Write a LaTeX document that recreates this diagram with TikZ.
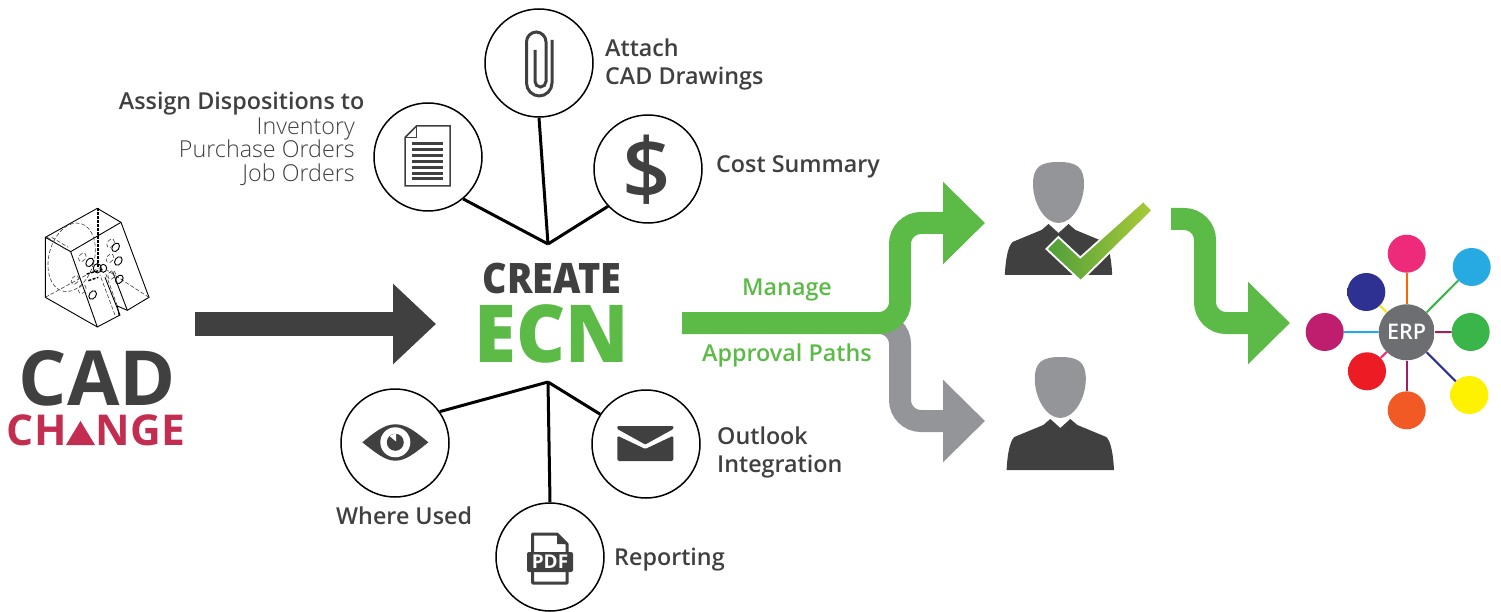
\documentclass[tikz,border=0pt]{standalone}
\usepackage{fontspec}
\setmainfont{Open Sans}
\newfontfamily\semifont{Open Sans Semibold}
\newfontfamily\lightfont{Open Sans Light}
\newfontfamily\heavyfont{Open Sans Extrabold}[FakeStretch=0.90]
\newfontfamily\ecnfont{Open Sans Extrabold}[FakeStretch=0.95]
\usetikzlibrary{arrows.meta}
\definecolor{ink}{HTML}{404040}
\definecolor{ecngreen}{HTML}{5CBB47}
\definecolor{pathgray}{HTML}{939598}
\definecolor{changered}{HTML}{C32E50}
\tikzstyle{iconnode} = [circle,
minimum size=108pt,
inner sep=0pt,
draw=black,
line width=1.5pt,
fill=white]
\tikzstyle{spoke} = [line width=3pt, black]
\tikzstyle{lbl} = [inner sep=0pt, anchor=base west, align=left, text=ink,
font=\fontsize{23.3}{28}\semifont]
\tikzstyle{sublbl} = [inner sep=0pt, anchor=base east, text=ink,
font=\fontsize{23.3}{24}\lightfont]
\tikzstyle{greenlbl} = [inner sep=0pt, anchor=base west, text=ecngreen,
font=\fontsize{23.3}{28}\semifont]
\tikzstyle{flow} = [line width=22pt, rounded corners=21pt,
-{Triangle[length=42pt,width=80pt]}]
\tikzstyle{erpline} = [line width=2pt]
\tikzstyle{cadline} = [line width=0.9pt, black]
\tikzstyle{caddash} = [line width=0.6pt, ink, dash pattern=on 4pt off 2pt]
\pgfdeclareradialshading[ballmain,ballrim]{ballshade}{\pgfpointorigin}{%
color(0bp)=(ballmain); color(30bp)=(ballmain); color(50bp)=(ballrim); color(100bp)=(ballrim)}
\tikzset{
  ball/.style 2 args={circle, minimum size=38pt, inner sep=0pt,
    /utils/exec={\definecolor{ballmain}{HTML}{#1}\definecolor{ballrim}{HTML}{#2}}, shading=ballshade},
  person/.pic={
    \fill [pathgray] (0,-113) .. controls (-18,-113) and (-25.5,-108) .. (-25.5,-91)
      .. controls (-25.5,-72) and (-14,-52) .. (0,-52)
      .. controls (14,-52) and (25.5,-72) .. (25.5,-91)
      .. controls (25.5,-108) and (18,-113) .. (0,-113) -- cycle;
    \fill [ink] (-53.7,0) .. controls (-53,-14) and (-51,-28) .. (-46,-33)
      -- (-17,-45) -- (-10,-51) -- (0,-42) -- (10,-51) -- (17,-45) -- (46,-33)
      .. controls (51,-28) and (53,-14) .. (53.7,0) -- cycle;
  }
}
\begin{document}
\begin{tikzpicture}[x=1pt, y=-1pt]
    \useasboundingbox (0,0) rectangle (1501,612);

    % CAD model
    \begin{scope}[shift={(40,200)}, x=0.3333pt, y=-0.3333pt]
      \draw [cadline] (16,112) -- (172,25) -- (243,67) -- (327,292) -- (262,331) -- (218,215);
      \draw [cadline] (16,112) -- (16,292) -- (172,381) -- (240,345) -- (195,232);
      \draw [cadline] (16,112) -- (92,155) -- (243,67);
      \draw [cadline] (92,155) -- (172,381);
      \draw [cadline] (237,345) -- (232,318) -- (262,331);
      \draw [caddash] (232,318) -- (195,215);
      \draw [caddash] (16,292) -- (175,205) (327,292) -- (200,210);
      \draw [caddash] (225,345) -- (180,225);
      \draw [caddash] (22,112) -- (80,150) (35,112) -- (85,142);
      \draw [caddash, rotate around={-15:(95,172)}] (95,172) ellipse [x radius=68, y radius=105];
      \foreach \cx/\cy in {212/130, 127/172, 210/175, 215/225, 105/240, 127/268}
        \draw [caddash, shift={(\cx,\cy)}, rotate=-35] (0,0) ellipse [x radius=10, y radius=14];
      \foreach \cx/\cy in {227/142, 149/187, 235/183, 238/238, 158/285}
        \draw [cadline, shift={(\cx,\cy)}, rotate=-35] (0,0) ellipse [x radius=10, y radius=14];
      \draw [black, line width=2pt, dash pattern=on 3pt off 1pt] (175,25) -- (175,205);
      \draw [black, line width=1.4pt, dash pattern=on 3pt off 1.5pt] (140,222) -- (190,208) (145,242) -- (175,232);
      \draw [cadline] (172,205) ellipse [x radius=12, y radius=14];
      \draw [cadline] (190,205) ellipse [x radius=10, y radius=12];
    \end{scope}

    \node (cad) [inner sep=0pt, anchor=base, text depth=0pt, text=ink, font=\fontsize{76}{76}\bfseries] at (97.5,405) {CAD};
    \node (change) [inner sep=0pt, anchor=base, text height=31pt, text=changered, font=\fontsize{42.5}{44}\bfseries] at (96,445)
      {CH\textcolor{white}{A}NGE};
    \fill [changered] (66,445) -- (80.5,421) -- (95,445) -- cycle;

    \coordinate (cadstart) at (195,324);
    \coordinate (cadend) at (436,324);
    \draw [flow, ink, line width=24pt, -{Triangle[length=43pt,width=78pt]}] (cadstart) -- (cadend);

    % Title
    \node (create) [inner sep=0pt, anchor=base, text=ink, font=\fontsize{42}{42}\heavyfont] at (552,293) {CREATE};
    \node (ecn) [inner sep=0pt, anchor=base, text=ecngreen, font=\fontsize{80}{80}\ecnfont] at (552,362) {ECN};

    % Icons above
    \coordinate (hubup) at (548,244);
    \node (c1) [iconnode] at (539,63) {};
    \node (c2) [iconnode] at (428,157) {};
    \node (c3) [iconnode] at (648,169) {};
    \draw [spoke] (c1.270) -- (hubup);
    \draw [spoke] (c2.-50) -- (hubup);
    \draw [spoke] (c3.223) -- (hubup);

    % Icons below
    \coordinate (hubdown) at (548,382);
    \node (c4) [iconnode] at (395,443) {};
    \node (c5) [iconnode] at (646,444) {};
    \node (c6) [iconnode] at (550,557) {};
    \draw [spoke] (c4.35) -- (hubdown);
    \draw [spoke] (c5.147) -- (hubdown);
    \draw [spoke] (c6.90) -- (hubdown);

    % Paper clip
    \draw [ink, line width=3pt] (552,40) [rounded corners=13pt] -- (552,96) -- (526.5,96)
      [rounded corners=10pt] -- (526.5,32) -- (546,32)
      [rounded corners=5.5pt] -- (546,87) -- (535,87) [sharp corners] -- (535,50);

    % Document
    \draw [ink, line width=1.5pt, fill=white] (405,137.5) -- (416.5,126) -- (450,126) -- (450,186) -- (405,186) -- cycle;
    \draw [ink, line width=1.5pt] (405,137.5) -- (416.5,137.5) -- (416.5,126);
    \foreach \ly in {143.3,149.3,155.3,161.3,167.3,173.3,178.6}
      \draw [ink, line width=3pt] (412,\ly) -- (443,\ly);

    % Dollar
    \node (dollar) [inner sep=0pt, text=ink, font=\fontsize{85}{85}\semifont] at (647,170) {\$};

    % Eye
    \fill [ink] (362.3,442.3) .. controls (376,431) and (385,424.3) .. (395.3,424.3)
      .. controls (406,424.3) and (415,431) .. (428.3,442.3)
      .. controls (415,453) and (406,460.7) .. (395.3,460.7)
      .. controls (385,460.7) and (376,453) .. (362.3,442.3) -- cycle;
    \fill [white] (395.3,442.3) circle [radius=15];
    \fill [ink] (395.3,442.3) circle [radius=8.5];
    \fill [white] (396,441.5) -- (396,433) -- (389.5,436) -- cycle;

    % Envelope
    \fill [ink, rounded corners=1pt] (617.3,426) -- (673.3,426) -- (673.3,429) -- (645.3,444.5) -- (617.3,429) -- cycle;
    \fill [ink, rounded corners=1.5pt] (617.3,435.7) -- (645.3,449) -- (673.3,435.7) -- (673.3,461) -- (617.3,461) -- cycle;

    % PDF file
    \draw [ink, line width=3pt, line join=round] (532.5,555) -- (532.5,534) -- (557,534) -- (567,544) -- (567,555)
      (532.5,570) -- (532.5,583) -- (567,583) -- (567,570);
    \fill [ink] (557,534) -- (557,544) -- (567,544) -- cycle;
    \node (pdf) [fill=ink, rounded corners=2pt, minimum width=46pt, minimum height=20pt, inner sep=0pt,
      text=white, font=\fontsize{19}{19}\bfseries] at (550,562) {PDF};

    % Labels
    \node (lattach) [lbl] at (605,85) {Attach\\CAD Drawings};
    \node (lassign) [inner sep=0pt, anchor=base east, text=ink, font=\fontsize{23.3}{28}\semifont] at (364.5,109.7) {Assign Dispositions to};
    \node (linv) [sublbl] at (355,134.5) {Inventory};
    \node (lpo) [sublbl] at (355,157.7) {Purchase Orders};
    \node (ljo) [sublbl] at (355,181.7) {Job Orders};
    \node (lcost) [lbl] at (716,172.7) {Cost Summary};
    \node (lout) [lbl] at (717,472) {Outlook\\Integration};
    \node (lwhere) [lbl] at (336,524) {Where Used};
    \node (lrep) [lbl] at (614,565) {Reporting};
    \node (lmanage) [greenlbl] at (742,295) {Manage};
    \node (lpaths) [greenlbl] at (702,361) {Approval Paths};

    % Approval paths
    \coordinate (fstart) at (682,323);
    \coordinate (fsplit) at (880,323);
    \coordinate (fturn) at (900,323);
    \coordinate (ftop) at (900,223);
    \coordinate (fend) at (985,223);
    \coordinate (glow) at (900,421);
    \coordinate (gend) at (985,421);
    \draw [flow, pathgray] (fsplit) -- (fturn) -- (glow) -- (gend);
    \draw [flow, ecngreen] (fstart) -- (fturn) -- (ftop) -- (fend);

    \coordinate (estart) at (1171,219);
    \coordinate (ebend) at (1205,219);
    \coordinate (elow) at (1205,323);
    \coordinate (eend) at (1290,323);
    \draw [flow, ecngreen] (estart) -- (ebend) -- (elow) -- (eend);

    % Approvers
    \pic (p1) at (1058.5,275) {person};
    \pic (p2) at (1060.3,470) {person};
    \definecolor{checklow}{HTML}{4F9E3A}
    \definecolor{checkhigh}{HTML}{A9CB38}
    \shadedraw [left color=checklow, right color=checkhigh, draw=white, line width=1.8pt]
      (1046.5,249) -- (1058.3,237) -- (1080.3,257.5) -- (1143.3,201) -- (1152.5,210.5) -- (1080.7,281) -- cycle;

    % ERP
    \node (erp) [ball={6D6E71}{48484A}, minimum size=56pt, text=white, font=\fontsize{21.5}{21.5}\semifont] at (1406.7,332.3) {ERP};
    \node (s1) [ball={EE2A7B}{B8336F}] at (1406.7,253.7) {};
    \node (s2) [ball={27AAE1}{1F7DA6}] at (1471.7,267) {};
    \node (s3) [ball={39B54A}{0F8A46}] at (1470.7,332) {};
    \node (s4) [ball={FFF200}{F7A81B}] at (1469.3,395) {};
    \node (s5) [ball={F15A24}{A84A24}] at (1406.7,410.3) {};
    \node (s6) [ball={ED1C24}{A81C26}] at (1367,371.3) {};
    \node (s7) [ball={BE1E6D}{8A0F5F}] at (1324.7,332) {};
    \node (s8) [ball={2E3192}{1B1B5E}] at (1366.3,292) {};
    \draw [erpline, orange!80!red] (erp) -- (s1);
    \definecolor{linegreen}{HTML}{39B54A}
    \definecolor{linemagenta}{HTML}{9E1F63}
    \definecolor{linenavy}{HTML}{2E3192}
    \definecolor{linepink}{HTML}{EE2A7B}
    \definecolor{lineblue}{HTML}{27AAE1}
    \definecolor{lineyellow}{HTML}{F9E51B}
    \draw [erpline, linegreen] (erp) -- (s2);
    \draw [erpline, linemagenta] (erp) -- (s3);
    \draw [erpline, linenavy] (erp) -- (s4);
    \draw [erpline, linemagenta] (erp) -- (s5);
    \draw [erpline, linepink] (erp) -- (s6);
    \draw [erpline, lineblue] (erp) -- (s7);
    \draw [erpline, lineyellow] (erp) -- (s8);
\end{tikzpicture}
\end{document}
